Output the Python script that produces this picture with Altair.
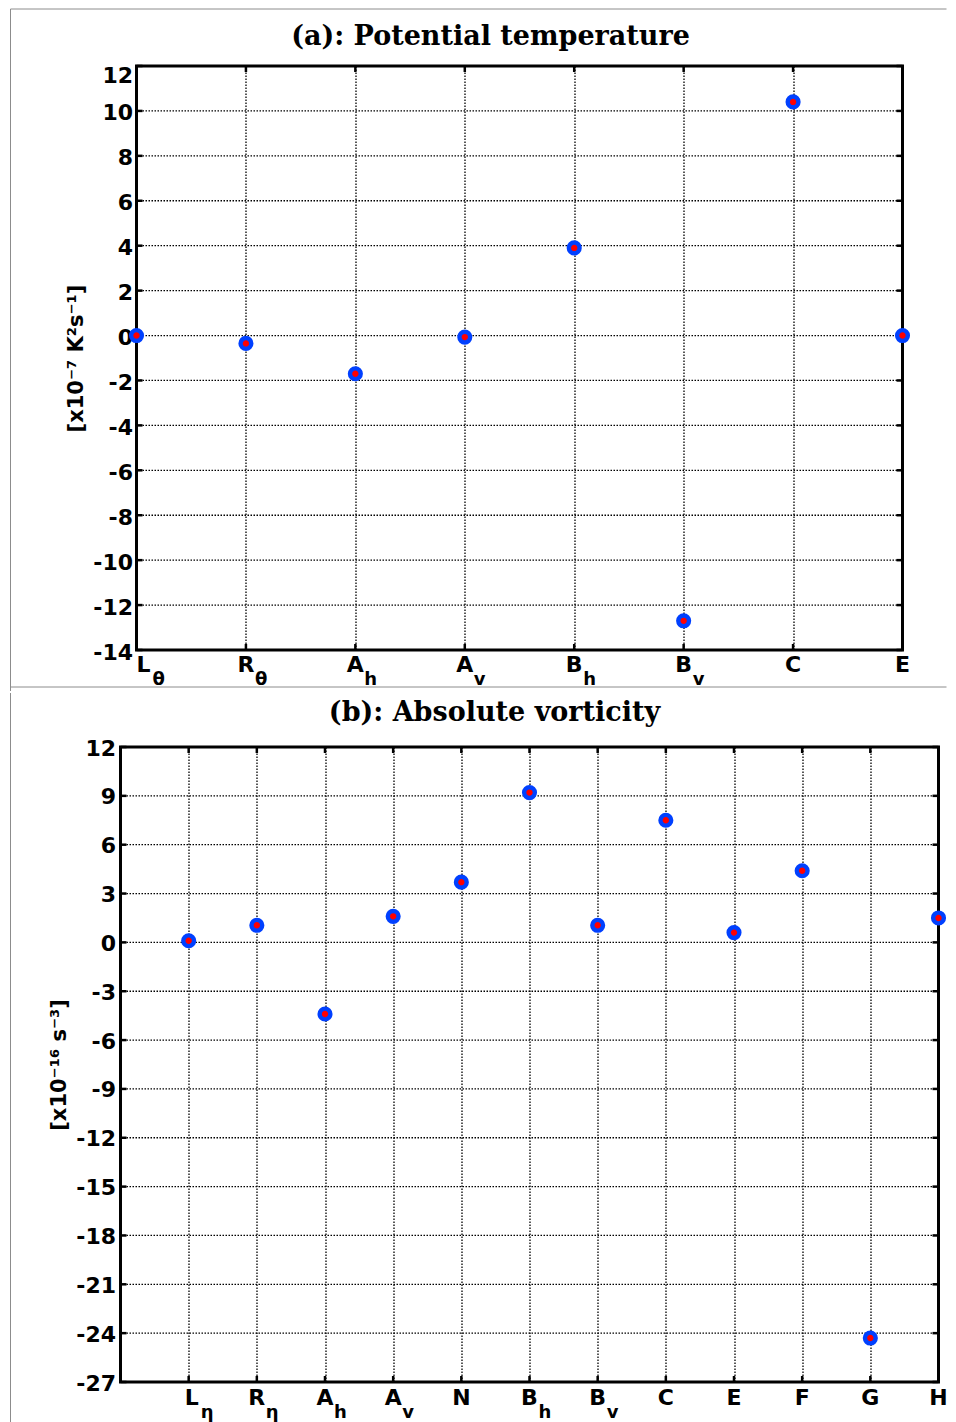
import altair as alt
import pandas as pd

# ---------------- data ----------------
a_main = ["L", "R", "A", "A", "B", "B", "C", "E"]
a_sub = ["θ", "θ", "h", "v", "h", "v", "", ""]
a_vals = [0.0, -0.35, -1.7, -0.07, 3.9, -12.7, 10.4, 0.0]
a_yticks = [-14, -12, -10, -8, -6, -4, -2, 0, 2, 4, 6, 8, 10, 12]

b_main = ["L", "R", "A", "A", "N", "B", "B", "C", "E", "F", "G", "H"]
b_sub = ["η", "η", "h", "v", "", "h", "v", "", "", "", "", ""]
b_vals = [0.1, 1.05, -4.4, 1.6, 3.7, 9.2, 1.05, 7.5, 0.6, 4.4, -24.3, 1.5]
b_yticks = [-27, -24, -21, -18, -15, -12, -9, -6, -3, 0, 3, 6, 9, 12]

titles = ["(a): Potential temperature", "(b): Absolute vorticity"]
ytitles = ["[x10⁻⁷ K²s⁻¹]", "[x10⁻¹⁶ s⁻³]"]

SANS = "DejaVu Sans"
SERIF = "DejaVu Serif"
BLUE = "#0040ff"
RED = "#ff0000"
FRAME = "#8c8c8c"
DASH = [1.5, 1.5]


def rule(x, x2, y, y2):
    return (
        alt.Chart(pd.DataFrame({"k": [0]}))
        .mark_rule(color=FRAME, strokeWidth=1)
        .encode(x=alt.value(x), x2=alt.value(x2), y=alt.value(y), y2=alt.value(y2))
    )


def panel(main, sub, vals, yticks, xdom, title, ytitle, x0, W, H,
          main_dy, sub_dy, tx, ty, label_pad, label_offset, first_dx, decor):
    n = len(main)
    pos = list(range(1, n + 1))
    pts = pd.DataFrame({"pos": pos, "val": vals, "main": main, "sub": sub})
    ydf = pd.DataFrame({"val": yticks})
    xs = alt.Scale(domain=xdom, range=[x0, W], nice=False, zero=False)
    ys = alt.Scale(domain=[yticks[0], yticks[-1]], nice=False, zero=False)

    X = alt.X(
        "pos:Q", scale=xs,
        axis=alt.Axis(values=pos, grid=True, labels=False, ticks=False, domain=False,
                      title=None, gridColor="black", gridDash=DASH, gridWidth=1.3,
                      gridOpacity=1),
    )
    Y = alt.Y(
        "val:Q", scale=ys,
        axis=alt.Axis(values=yticks, grid=False, domain=False, ticks=False, tickSize=0,
                      offset=-x0,
                      labelFont=SANS, labelFontWeight="bold", labelFontSize=22,
                      labelColor="black", labelPadding=label_pad, labelOverlap=False,
                      labelFlush=False, labelOffset=label_offset,
                      labelExpr="'' + datum.value",
                      title=ytitle, titleFont=SANS, titleFontWeight="bold",
                      titleFontSize=21, titleColor="black", titlePadding=6),
    )

    base = alt.Chart(pts)
    ybase = alt.Chart(ydf)
    tick_style = dict(color="black", strokeWidth=2.5)
    main_style = dict(font=SANS, fontWeight="bold", fontSize=22, align="center",
                      baseline="alphabetic", color="black")
    sub_style = dict(font=SANS, fontWeight="bold", fontSize=18, align="left",
                     baseline="alphabetic", color="black")
    first = base.transform_filter("datum.pos == 1")
    rest = base.transform_filter("datum.pos > 1")
    layers = list(decor)
    layers += [
        # dotted horizontal grid lines inside the frame
        ybase.mark_rule(color="black", strokeWidth=1.3, strokeDash=DASH)
        .encode(y=Y, x=alt.value(x0), x2=alt.value(W)),
        # frame
        alt.Chart(pd.DataFrame({"k": [0]}))
        .mark_rect(filled=False, fill=None, stroke="black", strokeWidth=3)
        .encode(x=alt.value(x0), x2=alt.value(W), y=alt.value(0), y2=alt.value(H)),
        # inward ticks on all four sides
        base.mark_rule(**tick_style).encode(x=X, y=alt.value(H), y2=alt.value(H - 6)),
        base.mark_rule(**tick_style).encode(x=X, y=alt.value(0), y2=alt.value(6)),
        ybase.mark_rule(**tick_style).encode(y=Y, x=alt.value(x0), x2=alt.value(x0 + 6)),
        ybase.mark_rule(**tick_style).encode(y=Y, x=alt.value(W), x2=alt.value(W - 6)),
        # data points
        base.mark_point(shape="circle", filled=True, fill=RED, stroke=BLUE,
                        strokeWidth=4.4, size=115, opacity=1).encode(x=X, y=Y),
        # category labels with subscripts
        first.mark_text(dx=first_dx, **main_style)
        .encode(x=X, y=alt.value(H + main_dy), text="main:N"),
        rest.mark_text(**main_style)
        .encode(x=X, y=alt.value(H + main_dy), text="main:N"),
        first.transform_filter("datum.sub != ''").mark_text(dx=9 + first_dx, **sub_style)
        .encode(x=X, y=alt.value(H + sub_dy), text="sub:N"),
        rest.transform_filter("datum.sub != ''").mark_text(dx=9, **sub_style)
        .encode(x=X, y=alt.value(H + sub_dy), text="sub:N"),
        # panel title
        alt.Chart(pd.DataFrame({"t": [title]}))
        .mark_text(font=SERIF, fontWeight="bold", fontSize=27, align="center",
                   baseline="alphabetic", color="black")
        .encode(x=alt.value(tx), y=alt.value(ty), text="t:N"),
    ]
    return alt.layer(*layers).properties(width=W, height=H)


# both panels share the same group origin (page x = 120)
pa = panel(
    a_main, a_sub, a_vals, a_yticks, [1, 8], titles[0], ytitles[0], 16, 782, 584,
    22, 35, 370, -21, 4,
    {"condition": {"test": "datum.value == 12", "value": 9}, "value": 2}, 7,
    [rule(-110, 826, -57, -57), rule(-110, 826, 621, 621), rule(-110, -110, -57, 625)],
)
pb = panel(
    b_main, b_sub, b_vals, b_yticks, [0, 12], titles[1], ytitles[1], 0, 818, 635,
    23, 36, 374, -26, 5, 1, 3,
    [rule(-110, -110, -54, 677)],
)

chart = (
    alt.concat(pa, pb, columns=1, align="none", spacing=0)
    .resolve_scale(x="independent", y="independent")
    .properties(padding={"left": 1.5, "top": 0, "right": -7, "bottom": 0},
                background="white")
    .configure_view(stroke=None)
)

chart.save("out.html", embed_options={"renderer": "svg", "actions": False})
